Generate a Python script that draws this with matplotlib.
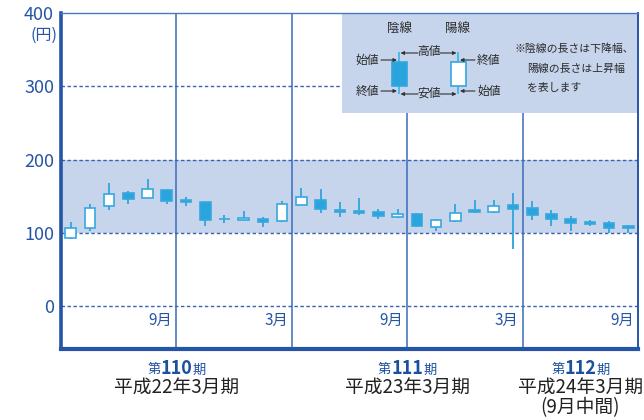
import matplotlib
matplotlib.use('Agg')
import matplotlib.pyplot as plt
from matplotlib.patches import Rectangle

plt.rcParams['font.family'] = ['Noto Sans CJK JP', 'DejaVu Sans']

# monthly candles, Apr 2009 - Sep 2011 (円)
opens = [92.5, 107, 136, 155, 147, 159, 145, 141.5, 119.5, 117.5, 118.5, 116,
         138.5, 144.5, 131.5, 129.5, 129, 121.5, 126, 108.5, 116.5, 130.5, 128.5, 137.5,
         133.5, 126, 119.5, 114.5, 114, 109]
highs = [115, 140, 168, 157, 173, 160, 149, 142, 124, 130, 121, 143,
         161.5, 160.5, 142, 147.5, 133, 133, 127, 119.5, 139, 145.5, 144.5, 154,
         143, 130.5, 122.5, 118, 116, 110.5]
lows = [92, 103, 131, 140, 147, 140, 136, 110, 113.5, 117, 108.5, 114.5,
        138.5, 127, 122, 125, 119, 120.5, 108, 102.5, 115, 127.5, 127.5, 77.5,
        117, 110, 103, 109, 99.5, 99.5]
closes = [107, 134.5, 152.5, 146, 160.5, 144, 141.5, 118, 118.5, 120, 114.5, 140,
          149, 132.5, 129, 127.5, 122.5, 126, 109, 117.5, 127.5, 129, 137, 132.5,
          124.5, 119, 113.5, 112.5, 107, 107]

month_marks = [6, 12, 18, 24, 30]
month_labels = ['9月', '3月', '9月', '3月', '9月']
period_pos = [6, 18, 27]
period_no = ['110', '111', '112']
period_names = ['平成22年3月期', '平成23年3月期', '平成24年3月期']

W, H = 644, 420
BLUE = '#29a4dd'
DARK = '#2556a6'
BAND = '#c6d4ec'


def P(px, py):
    return (px / W, 1 - py / H)


fig = plt.figure(figsize=(W / 100, H / 100), dpi=100)
ax = fig.add_axes([61 / W, 1 - 349 / H, 577 / W, 336 / H])
ax.set_xlim(0, 30)
ax.set_ylim(-58.5, 400)

ax.axhspan(100, 200, color=BAND, zorder=0.5, lw=0)
for v in [0, 100, 200, 300]:
    ax.axhline(v, color='#3762b0', lw=1, ls=(0, (2.5, 1.8)), zorder=1.5)
for m in month_marks[:-1]:
    ax.axvline(m, color='#3b6cb8', lw=1.1, zorder=1.6)

x = [i + 0.5 for i in range(len(opens))]
ax.vlines(x, lows, highs, color='#3aa8df', lw=1.4, zorder=3)
bottoms = [min(o, c) for o, c in zip(opens, closes)]
heights = [max(abs(c - o), 0.8) for o, c in zip(opens, closes)]
faces = ['white' if c > o else BLUE for o, c in zip(opens, closes)]
ax.bar(x, heights, bottom=bottoms, width=0.55, color=faces,
       edgecolor='#36a8df', linewidth=1.2, zorder=4)

ax.set_yticks([0, 100, 200, 300, 400])
ax.set_yticklabels(['0', '100', '200', '300', '400'])
ax.set_xticks([])
ax.tick_params(axis='y', length=0, pad=5, labelsize=13, labelcolor=DARK)
for side, lw in [('left', 2.6), ('bottom', 3), ('top', 1), ('right', 1.4)]:
    ax.spines[side].set_linewidth(lw)
    ax.spines[side].set_color(DARK)
ax.spines['top'].set_color('#4a78c0')

fig.text(57 / W, 1 - 35 / H, '(円)', ha='right', va='center', fontsize=11.5, color=DARK)

for m, lab in zip(month_marks, month_labels):
    ax.text(m - 0.2, -19, lab, ha='right', va='center', fontsize=11, color=DARK)

tr = ax.get_xaxis_transform()
for xp, no, name in zip(period_pos, period_no, period_names):
    t = ax.text(xp, -0.058, no, transform=tr, ha='center', va='center',
                fontsize=13, fontweight='bold', color='#1b4f9f')
    ax.annotate('第', xy=(0, 0.08), xycoords=t, ha='right', va='bottom',
                fontsize=9.5, color='#1b4f9f')
    ax.annotate('期', xy=(1, 0.08), xycoords=t, ha='left', va='bottom',
                fontsize=9.5, color='#1b4f9f')
    ax.text(xp, -0.115, name, transform=tr, ha='center', va='center',
            fontsize=13.5, color='#222222')
ax.text(period_pos[-1], -0.175, '(9月中間)', transform=tr, ha='center', va='center',
        fontsize=13.5, color='#222222')

# legend box
x0, y0 = P(342, 113.5)
x1, y1 = P(637.5, 13.5)
ax.add_patch(Rectangle((x0, y0), x1 - x0, y1 - y0, transform=fig.transFigure,
                       facecolor=BAND, edgecolor='none', zorder=2.4))
txt = dict(transform=fig.transFigure, color='#2a2a2a', zorder=6)
ax.text(*P(399, 28), '陰線', ha='center', va='center', fontsize=9, **txt)
ax.text(*P(458, 28), '陽線', ha='center', va='center', fontsize=9, **txt)
for cx, face in [(399, BLUE), (458, 'white')]:
    ax.plot(*zip(P(cx, 53), P(cx, 93)), color='#4cb8e6', lw=1.4,
            transform=fig.transFigure, zorder=5)
    bx, by = P(cx - 7.5, 86)
    bx2, by2 = P(cx + 7.5, 62)
    ax.add_patch(Rectangle((bx, by), bx2 - bx, by2 - by, transform=fig.transFigure,
                           facecolor=face, edgecolor='#33a7de', lw=1.2, zorder=5.5))

ax.text(*P(379, 60), '始値', ha='right', va='center', fontsize=8.5, **txt)
ax.text(*P(379, 91), '終値', ha='right', va='center', fontsize=8.5, **txt)
ax.text(*P(477, 60), '終値', ha='left', va='center', fontsize=8.5, **txt)
ax.text(*P(477, 91), '始値', ha='left', va='center', fontsize=8.5, **txt)
ax.text(*P(429, 52), '高値', ha='center', va='center', fontsize=8.5, **txt)
ax.text(*P(429, 93), '安値', ha='center', va='center', fontsize=8.5, **txt)

arrows = [((381, 60), (397, 60)), ((381, 91), (397, 91)),
          ((475, 60), (460, 60)), ((475, 91), (460, 91)),
          ((418, 53), (400.5, 53)), ((440, 53), (456.5, 53)),
          ((418, 94), (400.5, 94)), ((440, 94), (456.5, 94))]
for a, b in arrows:
    ax.annotate('', xy=P(*b), xytext=P(*a), xycoords='figure fraction',
                textcoords='figure fraction', zorder=6,
                arrowprops=dict(arrowstyle='-|>', color='#333333', lw=0.8,
                                mutation_scale=5, shrinkA=0, shrinkB=0))

ax.text(*P(515, 49), '※陰線の長さは下降幅、', ha='left', va='center', fontsize=7.8, **txt)
ax.text(*P(527, 69), '陽線の長さは上昇幅', ha='left', va='center', fontsize=7.8, **txt)
ax.text(*P(527, 88), 'を表します', ha='left', va='center', fontsize=7.8, **txt)

fig.savefig('out.png', dpi=100)
